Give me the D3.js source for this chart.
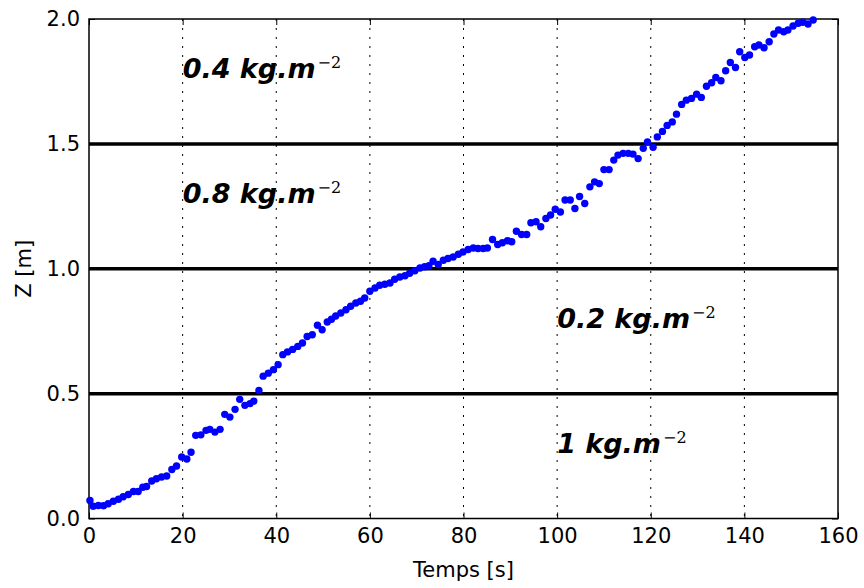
<!DOCTYPE html>
<html>
<head>
<meta charset="utf-8">
<script src="https://cdn.jsdelivr.net/npm/d3@7"></script>
<style>
  body { margin: 0; background: #fff; }
  svg { display: block; font-family: "DejaVu Sans", sans-serif; }
</style>
</head>
<body>
<svg width="864" height="588"></svg>
<script>
// measured depth over time
var times = [0.2, 0.9, 2.0, 3.1, 4.1, 5.2, 6.3, 7.3, 8.4, 9.5, 10.5, 11.5, 12.3, 13.4, 14.4, 15.5, 16.6, 17.7, 18.7, 19.8,
    20.9, 21.8, 22.8, 23.9, 25.0, 25.8, 26.9, 28.0, 29.0, 30.1, 31.2, 32.2, 33.3, 34.4, 35.2, 36.3, 37.2, 38.3, 39.4, 40.4,
    41.4, 42.4, 43.5, 44.6, 45.6, 46.6, 47.7, 48.8, 49.8, 50.9, 51.8, 52.7, 53.8, 54.9, 55.9, 57.0, 58.0, 58.9, 60.0, 61.1,
    62.1, 63.2, 64.3, 65.3, 66.4, 67.5, 68.5, 69.6, 70.7, 71.7, 72.6, 73.5, 74.6, 75.7, 76.7, 77.8, 78.9, 79.9, 81.0, 82.1,
    83.1, 84.2, 85.1, 86.2, 87.3, 88.3, 89.4, 90.3, 91.3, 92.4, 93.5, 94.4, 95.5, 96.5, 97.6, 98.6, 99.6, 100.7, 101.7, 102.8,
    103.8, 104.8, 105.9, 107.0, 108.0, 109.0, 110.0, 111.1, 112.1, 113.0, 114.1, 115.2, 116.2, 117.3, 118.4, 119.3, 120.5, 121.4, 122.5, 123.5,
    124.6, 125.5, 126.6, 127.6, 128.7, 129.8, 130.8, 131.9, 133.0, 133.9, 135.0, 136.0, 137.0, 138.1, 139.0, 140.1, 141.1, 142.2, 143.1, 144.2,
    145.3, 146.3, 147.3, 148.4, 149.3, 150.4, 151.5, 152.5, 153.6, 154.7];
var depth = [0.072, 0.049, 0.052, 0.051, 0.059, 0.069, 0.077, 0.087, 0.096, 0.108, 0.108, 0.125, 0.128, 0.150, 0.159, 0.166, 0.170, 0.196, 0.210, 0.246,
    0.238, 0.265, 0.333, 0.335, 0.353, 0.357, 0.346, 0.357, 0.417, 0.406, 0.437, 0.477, 0.453, 0.460, 0.470, 0.513, 0.570, 0.582, 0.596, 0.616,
    0.656, 0.667, 0.677, 0.689, 0.703, 0.729, 0.736, 0.774, 0.756, 0.787, 0.798, 0.811, 0.823, 0.836, 0.850, 0.863, 0.870, 0.883, 0.910, 0.923,
    0.934, 0.938, 0.943, 0.958, 0.967, 0.972, 0.982, 0.992, 1.003, 1.008, 1.012, 1.030, 1.017, 1.034, 1.041, 1.047, 1.058, 1.067, 1.077, 1.083,
    1.081, 1.081, 1.083, 1.117, 1.097, 1.104, 1.112, 1.108, 1.150, 1.137, 1.137, 1.184, 1.188, 1.168, 1.201, 1.215, 1.238, 1.227, 1.275, 1.275,
    1.241, 1.289, 1.261, 1.328, 1.348, 1.341, 1.397, 1.397, 1.435, 1.455, 1.462, 1.462, 1.459, 1.441, 1.482, 1.508, 1.486, 1.528, 1.550, 1.574,
    1.588, 1.619, 1.658, 1.675, 1.682, 1.699, 1.686, 1.731, 1.745, 1.766, 1.753, 1.793, 1.826, 1.806, 1.869, 1.846, 1.856, 1.889, 1.896, 1.885,
    1.909, 1.940, 1.956, 1.949, 1.956, 1.972, 1.983, 1.987, 1.980, 1.996];

// layer boundaries and labels
var boundaries = [0.5, 1.0, 1.5];
var layerLabels = ["0.4 kg.m", "0.8 kg.m", "0.2 kg.m", "1 kg.m"];
var labelX = [20, 20, 100, 100];
var labelY = [1.75, 1.25, 0.75, 0.25];

var xTicks = [0, 20, 40, 60, 80, 100, 120, 140, 160];
var yTicks = [0.0, 0.5, 1.0, 1.5, 2.0];

var svg = d3.select("svg");
var margin = {left: 89, right: 26, top: 19, bottom: 69.5};
var width = 864 - margin.left - margin.right;
var height = 588 - margin.top - margin.bottom;

var x = d3.scaleLinear().domain([0, 160]).range([0, width]);
var y = d3.scaleLinear().domain([0, 2]).range([height, 0]);

var g = svg.append("g").attr("transform", "translate(" + margin.left + "," + margin.top + ")");

// dotted vertical grid
g.append("g").selectAll("line").data(xTicks.slice(1, -1)).enter().append("line")
    .attr("x1", function (d) { return x(d); })
    .attr("x2", function (d) { return x(d); })
    .attr("y1", 0).attr("y2", height)
    .attr("stroke", "#000").attr("stroke-width", 1)
    .attr("stroke-dasharray", "2,7");

// thick boundary lines
g.append("g").selectAll("line").data(boundaries).enter().append("line")
    .attr("x1", 0).attr("x2", width)
    .attr("y1", function (d) { return y(d); })
    .attr("y2", function (d) { return y(d); })
    .attr("stroke", "#000").attr("stroke-width", 3.5);

// axes with inward ticks on every side
var fmtY = d3.format(".1f");
g.append("g").attr("transform", "translate(0," + height + ")")
    .call(d3.axisBottom(x).tickValues(xTicks).tickSizeInner(-6).tickSizeOuter(0).tickPadding(10));
g.append("g")
    .call(d3.axisLeft(y).tickValues(yTicks).tickFormat(fmtY).tickSizeInner(-6).tickSizeOuter(0).tickPadding(9));
g.append("g")
    .call(d3.axisTop(x).tickValues(xTicks).tickSizeInner(-6).tickSizeOuter(0).tickFormat(""));
g.append("g").attr("transform", "translate(" + width + ",0)")
    .call(d3.axisRight(y).tickValues(yTicks).tickSizeInner(-6).tickSizeOuter(0).tickFormat(""));

g.selectAll(".domain").remove();
g.selectAll(".tick line").attr("stroke", "#000").attr("stroke-width", 1);
g.selectAll(".tick text").attr("font-family", "DejaVu Sans").attr("font-size", 21).attr("fill", "#000");

g.append("rect").attr("width", width).attr("height", height)
    .attr("fill", "none").attr("stroke", "#000").attr("stroke-width", 1.5);

// data points
var pts = times.map(function (t, i) { return {t: t, z: depth[i]}; });
g.append("g").selectAll("circle").data(pts).enter().append("circle")
    .attr("cx", function (d) { return x(d.t); })
    .attr("cy", function (d) { return y(d.z); })
    .attr("r", 3.7)
    .attr("fill", "#0000ff");

// layer annotations
var ann = g.append("g").selectAll("text").data(layerLabels).enter().append("text")
    .attr("x", function (d, i) { return x(labelX[i]); })
    .attr("y", function (d, i) { return y(labelY[i]); })
    .attr("dy", -3)
    .attr("font-family", "DejaVu Sans")
    .attr("font-weight", "bold")
    .attr("font-style", "italic")
    .attr("font-size", 27)
    .attr("fill", "#000");
ann.append("tspan").text(function (d) { return d; });
ann.append("tspan")
    .attr("dy", -10)
    .attr("dx", 2)
    .attr("font-family", "DejaVu Serif")
    .attr("font-weight", "normal")
    .attr("font-style", "normal")
    .attr("font-size", 16)
    .text("\u22122");

// axis titles
svg.append("text")
    .attr("x", margin.left + width / 2).attr("y", 577)
    .attr("text-anchor", "middle")
    .attr("font-size", 21)
    .text("Temps [s]");
svg.append("text")
    .attr("transform", "translate(31," + (margin.top + height / 2) + ") rotate(-90)")
    .attr("text-anchor", "middle")
    .attr("font-size", 21)
    .text("Z [m]");
</script>
</body>
</html>
